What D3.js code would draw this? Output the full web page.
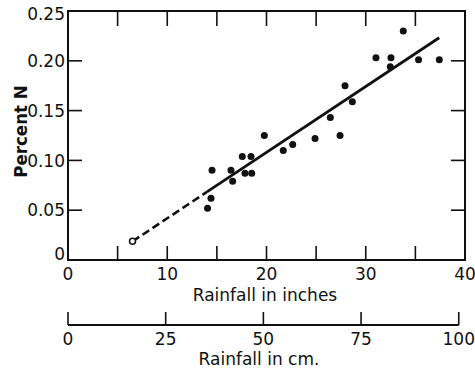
<!DOCTYPE html>
<html>
<head>
    <style>
        body { margin: 0; background: #fff; }
        svg text { font-family: "DejaVu Sans", sans-serif; fill: #111; }
        .tick-label { font-size: 17px; }
        .axis-title { font-size: 17px; }
        .y-title { font-family: "Liberation Sans Narrow", "DejaVu Sans Condensed", sans-serif; font-weight: bold; font-size: 18.5px; }
    </style>
</head>
<body>
    <div id="chart"></div>
    <script src="https://d3js.org/d3.v7.min.js"></script>
    <script>
        // values
        var rainInches = [14.06, 14.41, 14.51, 16.42, 16.59, 17.56, 18.44, 17.83, 18.51, 19.78, 21.69, 22.64,
                          24.89, 26.43, 27.41, 27.91, 28.65, 31.03, 32.54, 32.47, 33.78, 35.32, 37.41];
        var percentN = [0.052, 0.062, 0.090, 0.090, 0.079, 0.104, 0.104, 0.087, 0.087, 0.125, 0.110, 0.116,
                        0.122, 0.143, 0.125, 0.175, 0.159, 0.203, 0.203, 0.194, 0.230, 0.201, 0.201];
        // fitted line: dashed part, then solid part (inches)
        var fitDashed = [6.5, 14.0];
        var fitSolid = [14.0, 37.4];
        var fitSlope = 0.006617, fitIntercept = -0.0243;

        var yTicks = [0, 0.05, 0.10, 0.15, 0.20, 0.25];
        var yTickLabels = ["0", "0.05", "0.10", "0.15", "0.20", "0.25"];
        var xTicks = [5, 10, 15, 20, 25, 30, 35];
        var xTickLabels = [0, 10, 20, 30, 40];
        var cmTicks = [0, 25, 50, 75, 100];

        drawChart();

        function drawChart() {
            var width = 475, height = 369;
            var pLeft = 68, pRight = 465, pTop = 11, pBottom = 260;

            var svg = d3.select("#chart").append("svg")
                .attr("width", width)
                .attr("height", height);

            var x = d3.scaleLinear().domain([0, 40]).range([pLeft, pRight]);
            var y = d3.scaleLinear().domain([0, 0.25]).range([pBottom, pTop]);
            var fit = function (v) { return fitIntercept + fitSlope * v; };

            // frame
            svg.append("rect")
                .attr("x", pLeft).attr("y", pTop)
                .attr("width", pRight - pLeft).attr("height", pBottom - pTop)
                .attr("fill", "none").attr("stroke", "#111").attr("stroke-width", 2);

            var tickLen = 14;
            // top & bottom ticks
            xTicks.forEach(function (t) {
                svg.append("line").attr("x1", x(t)).attr("x2", x(t))
                    .attr("y1", pBottom).attr("y2", pBottom - tickLen)
                    .attr("stroke", "#111").attr("stroke-width", 1.6);
                svg.append("line").attr("x1", x(t)).attr("x2", x(t))
                    .attr("y1", pTop).attr("y2", pTop + tickLen + 1)
                    .attr("stroke", "#111").attr("stroke-width", 1.6);
            });
            // left & right ticks
            yTicks.slice(1, -1).forEach(function (t) {
                svg.append("line").attr("x1", pLeft).attr("x2", pLeft + tickLen)
                    .attr("y1", y(t)).attr("y2", y(t))
                    .attr("stroke", "#111").attr("stroke-width", 1.6);
                svg.append("line").attr("x1", pRight).attr("x2", pRight - tickLen)
                    .attr("y1", y(t)).attr("y2", y(t))
                    .attr("stroke", "#111").attr("stroke-width", 1.6);
            });

            // y tick labels
            svg.selectAll(".ylab")
                .data(yTicks)
                .enter().append("text")
                .attr("class", "tick-label")
                .attr("text-anchor", "end")
                .attr("x", pLeft - 3)
                .attr("y", function (d) { return y(d); })
                .attr("dy", function (d, i) { return i === 0 ? "0.0em" : (i === yTicks.length - 1 ? "0.5em" : "0.36em"); })
                .text(function (d, i) { return yTickLabels[i]; });

            // x tick labels
            svg.selectAll(".xlab")
                .data(xTickLabels)
                .enter().append("text")
                .attr("class", "tick-label")
                .attr("text-anchor", "middle")
                .attr("x", function (d) { return x(d); })
                .attr("y", 280)
                .text(function (d) { return d; });

            svg.append("text").attr("class", "axis-title")
                .attr("text-anchor", "middle")
                .attr("x", 265).attr("y", 301)
                .text("Rainfall in inches");

            svg.append("text").attr("class", "y-title")
                .attr("text-anchor", "middle")
                .attr("transform", "translate(27," + ((pTop + pBottom) / 2 - 4) + ") rotate(-90)")
                .text("Percent N");

            // cm axis
            var cm = d3.scaleLinear().domain([0, 100]).range([x(0), x(100 / 2.54)]);
            var cmY = 325;
            svg.append("line").attr("x1", cm(0)).attr("x2", cm(100))
                .attr("y1", cmY).attr("y2", cmY)
                .attr("stroke", "#111").attr("stroke-width", 1.8);
            svg.selectAll(".cmtick")
                .data(cmTicks)
                .enter().append("line")
                .attr("x1", function (d) { return cm(d); })
                .attr("x2", function (d) { return cm(d); })
                .attr("y1", cmY).attr("y2", cmY - 13)
                .attr("stroke", "#111").attr("stroke-width", 1.6);
            svg.selectAll(".cmlab")
                .data(cmTicks)
                .enter().append("text")
                .attr("class", "tick-label")
                .attr("text-anchor", "middle")
                .attr("x", function (d) { return cm(d); })
                .attr("y", 345)
                .text(function (d) { return d; });
            svg.append("text").attr("class", "axis-title")
                .attr("text-anchor", "middle")
                .attr("x", 259).attr("y", 365)
                .text("Rainfall in cm.");

            // fitted line
            var line = d3.line()
                .x(function (d) { return x(d); })
                .y(function (d) { return y(fit(d)); });
            svg.append("path")
                .attr("d", line(fitDashed))
                .attr("fill", "none").attr("stroke", "#111")
                .attr("stroke-width", 2.6).attr("stroke-dasharray", "8,4");
            svg.append("path")
                .attr("d", line(fitSolid))
                .attr("fill", "none").attr("stroke", "#111")
                .attr("stroke-width", 2.8);
            svg.append("circle")
                .attr("cx", x(fitDashed[0])).attr("cy", y(fit(fitDashed[0])))
                .attr("r", 3).attr("fill", "#fff")
                .attr("stroke", "#111").attr("stroke-width", 1.5);

            // data points
            svg.selectAll(".pt")
                .data(rainInches)
                .enter().append("circle")
                .attr("class", "pt")
                .attr("cx", function (d) { return x(d); })
                .attr("cy", function (d, i) { return y(percentN[i]); })
                .attr("r", 3.5)
                .attr("fill", "#111");
        }
    </script>
</body>
</html>
